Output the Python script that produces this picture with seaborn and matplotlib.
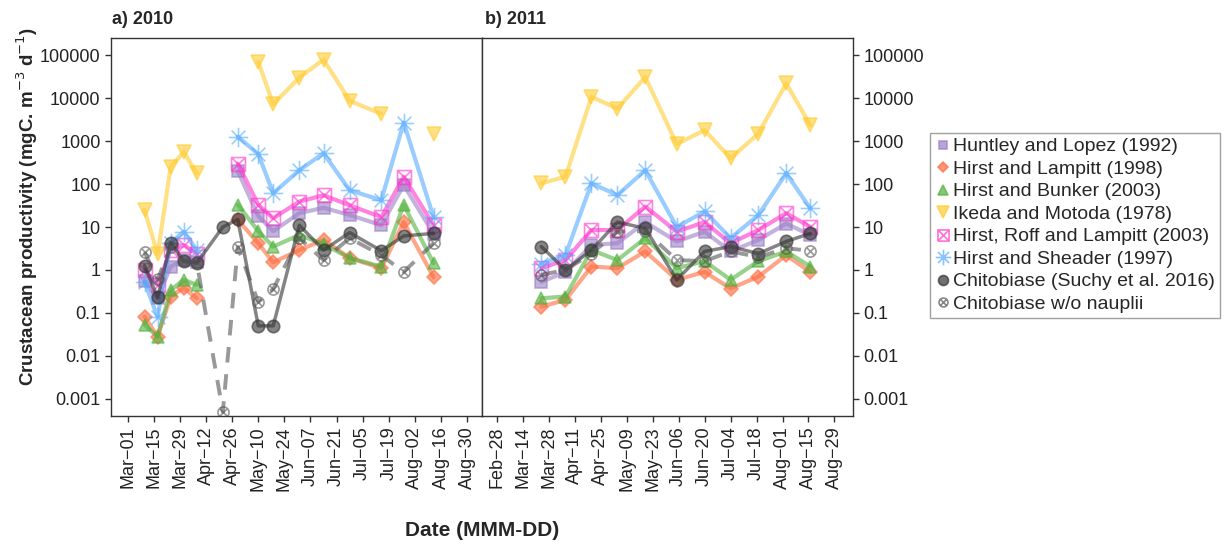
import numpy as np
import pandas as pd
import matplotlib
matplotlib.use("Agg")
import matplotlib.pyplot as plt
import matplotlib.dates as mdates
from matplotlib.path import Path
from matplotlib.lines import Line2D
from matplotlib.ticker import FixedLocator, FixedFormatter
import seaborn as sns

# sampling dates
dates_2010 = ["2010-03-10", "2010-03-17", "2010-03-24", "2010-03-31", "2010-04-07",
              "2010-04-21", "2010-04-29", "2010-05-10", "2010-05-18", "2010-06-01",
              "2010-06-14", "2010-06-28", "2010-07-15", "2010-07-27", "2010-08-12"]
dates_2011 = ["2011-03-24", "2011-04-06", "2011-04-20", "2011-05-04", "2011-05-19",
              "2011-06-05", "2011-06-20", "2011-07-04", "2011-07-19", "2011-08-03",
              "2011-08-16"]

nan = np.nan
# 2010 values (mgC m-3 d-1)
huntley_2010 = [0.55, 0.22, 1.2, 1.7, 1.5, nan, 200, 18, 8, 21, 28, 19, 11, 95, 7]
lampitt_2010 = [0.082, 0.028, 0.24, 0.38, 0.22, nan, 14.6, 4.2, 1.5, 2.9, 5, 1.9, 1.1, 13, 0.68]
bunker_2010 = [0.053, 0.028, 0.34, 0.59, 0.45, nan, 33, 8, 3.5, 6.5, 4, 1.9, 1.2, 33, 1.43]
ikeda_2010 = [25, 2.3, 250, 560, 178, nan, nan, 70000, 7200, 30000, 79000, 8700, 4300, nan, 1450]
roff_2010 = [1.0, 0.45, 2.9, 3.8, 2.4, nan, 300, 33, 16, 39, 55, 32, 17, 148, 11]
sheader_2010 = [0.53, 0.08, 4.3, 7.8, 2.9, nan, 1260, 500, 61, 210, 520, 72, 42, 2700, 17]
chito_2010 = [1.26, 0.23, 4.3, 1.6, 1.45, 10, 15, 0.05, 0.05, 11, 2.9, 7.4, 2.8, 6.2, 7.1]
chito_nn_2010 = [2.6, 0.6, 3.5, 1.6, 1.5, 0.0005, 3.4, 0.18, 0.36, 5.5, 1.7, 5.5, 2.2, 0.9, 4.2]

# 2011 values
huntley_2011 = [0.53, 0.9, 3.8, 4.2, 13, 4.6, 7.8, 2.7, 5, 12, 6.5]
lampitt_2011 = [0.14, 0.2, 1.2, 1.1, 2.7, 0.59, 0.9, 0.37, 0.7, 2.2, 0.9]
bunker_2011 = [0.22, 0.24, 2.9, 1.7, 5.5, 1.1, 1.6, 0.59, 1.6, 2.7, 1.2]
ikeda_2011 = [104, 148, 10700, 5700, 31000, 850, 1800, 395, 1500, 22000, 2350]
roff_2011 = [1.1, 1.7, 8.5, 8.5, 30, 7.8, 13, 4.2, 8.5, 21, 10]
sheader_2011 = [1.4, 2.2, 104, 55, 210, 10, 23, 5.5, 19, 178, 27]
chito_2011 = [3.5, 1.0, 2.9, 13, 9.3, 0.59, 2.7, 3.5, 2.4, 4.6, 7.1]
chito_nn_2011 = [0.77, 1.0, 2.4, 7.8, 8, 1.7, 1.6, 2.7, 2.0, 3.2, 2.8]

labels = ["Huntley and Lopez (1992)", "Hirst and Lampitt (1998)", "Hirst and Bunker (2003)",
          "Ikeda and Motoda (1978)", "Hirst, Roff and Lampitt (2003)", "Hirst and Sheader (1997)",
          "Chitobiase (Suchy et al. 2016)", "Chitobiase w/o nauplii"]

# custom markers: boxed x, circled x, asterisk
M, L = Path.MOVETO, Path.LINETO
box_x = Path([(-1, -1), (1, -1), (1, 1), (-1, 1), (-1, -1), (-1, -1), (1, 1), (-1, 1), (1, -1)],
             [M, L, L, L, L, M, L, M, L])
circ_x = Path.make_compound_path(Path.unit_circle(),
                                 Path([(-.707, -.707), (.707, .707)], [M, L]),
                                 Path([(-.707, .707), (.707, -.707)], [M, L]))
star = Path([(-1, 0), (1, 0), (0, -1), (0, 1), (-.707, -.707), (.707, .707), (-.707, .707), (.707, -.707)],
            [M, L, M, L, M, L, M, L])

styles = [
    dict(color="#9a7fc6", marker="s", ms=8, lw=3, ls="-", mfc="#9a7fc6"),
    dict(color="#ff6a3d", marker="D", ms=7, lw=3, ls="-", mfc="#ff6a3d"),
    dict(color="#52b33f", marker="^", ms=9, lw=3, ls="-", mfc="#52b33f"),
    dict(color="#ffcc33", marker="v", ms=10, lw=3, ls="-", mfc="#ffcc33"),
    dict(color="#ff33cc", marker=box_x, ms=10, lw=3, ls="-", mfc="none"),
    dict(color="#55aaff", marker=star, ms=14, lw=3, ls="-", mfc="none"),
    dict(color="#333333", marker="o", ms=9, lw=2.5, ls="-", mfc="#333333"),
    dict(color="#555555", marker=circ_x, ms=8, lw=2.8, ls=(0, (4, 3)), mfc="none"),
]

sns.set_style("ticks")
plt.rcParams["font.family"] = ["Liberation Sans", "DejaVu Sans"]

fig = plt.figure(figsize=(12.28, 5.45), dpi=100)
ax1 = fig.add_axes([111 / 1228, 1 - 416 / 545, 371 / 1228, 378 / 545])
ax2 = fig.add_axes([482 / 1228, 1 - 416 / 545, 371 / 1228, 378 / 545])


def draw(ax, dates, series):
    d = pd.to_datetime(dates)
    for vals, st in zip(series, styles):
        df = pd.DataFrame({"date": d, "val": vals})
        # split into contiguous segments so gaps are not bridged
        df["seg"] = df["val"].isna().cumsum()
        df = df.dropna()
        for _, sub in df.groupby("seg"):
            sns.lineplot(data=sub, x="date", y="val", ax=ax, color=st["color"], lw=st["lw"],
                         ls=st["ls"], marker=st["marker"], ms=st["ms"], mfc=st["mfc"],
                         mec=st["color"], mew=1.2, alpha=0.6, estimator=None, sort=False)


draw(ax1, dates_2010, [huntley_2010, lampitt_2010, bunker_2010, ikeda_2010,
                       roff_2010, sheader_2010, chito_2010, chito_nn_2010])
draw(ax2, dates_2011, [huntley_2011, lampitt_2011, bunker_2011, ikeda_2011,
                       roff_2011, sheader_2011, chito_2011, chito_nn_2011])

yticks = [0.001, 0.01, 0.1, 1, 10, 100, 1000, 10000, 100000]
ytick_labels = ["0.001", "0.01", "0.1", "1", "10", "100", "1000", "10000", "100000"]
xticks_2010 = pd.date_range("2010-03-01", periods=14, freq="14D")
xticks_2011 = pd.date_range("2011-02-28", periods=14, freq="14D")

for ax, xt, lo, hi in [(ax1, xticks_2010, "2010-02-20", "2010-09-07"),
                       (ax2, xticks_2011, "2011-02-20", "2011-09-08")]:
    ax.set_yscale("log")
    ax.set_ylim(10 ** -3.4, 10 ** 5.4)
    ax.yaxis.set_major_locator(FixedLocator(yticks))
    ax.yaxis.set_major_formatter(FixedFormatter(ytick_labels))
    ax.yaxis.set_minor_locator(FixedLocator([]))
    ax.set_xlim(pd.Timestamp(lo), pd.Timestamp(hi))
    ax.set_xticks(xt)
    ax.xaxis.set_major_formatter(mdates.DateFormatter("%b\u2212%d"))
    ax.tick_params(axis="x", rotation=90)
    ax.tick_params(labelsize=13, length=4, width=1, color="#333333", labelcolor="#222222")
    ax.set_xlabel("")
    ax.set_ylabel("")
    for sp in ax.spines.values():
        sp.set_visible(True)
        sp.set_color("#333333")
        sp.set_linewidth(1)

ax2.yaxis.tick_right()
ax2.yaxis.set_label_position("right")

fig.text(112 / 1228, 1 - 19 / 545, "a) 2010", fontsize=13, fontweight="bold", va="center")
fig.text(485 / 1228, 1 - 19 / 545, "b) 2011", fontsize=13, fontweight="bold", va="center")
fig.text(27 / 1228, 1 - 207 / 545, "Crustacean productivity (mgC. m$^{-3}$ d$^{-1}$)",
         rotation=90, fontsize=13.5, fontweight="bold", ha="center", va="center")
fig.text(482 / 1228, 1 - 530 / 545, "Date (MMM-DD)", fontsize=15, fontweight="bold",
         ha="center", va="center")

handles = [Line2D([], [], ls="none", marker=st["marker"], ms=st["ms"] * 0.8, color=st["color"],
                  mfc=st["mfc"], mec=st["color"], mew=1.2, alpha=0.7) for st in styles]
leg = fig.legend(handles, labels, loc="upper left", bbox_to_anchor=(930 / 1228, 1 - 133 / 545),
                 fontsize=14, frameon=True, fancybox=False, edgecolor="#888888",
                 borderaxespad=0, handletextpad=0.15, handlelength=0.8, labelspacing=0.25,
                 borderpad=0.25)
leg.get_frame().set_linewidth(1)

fig.savefig("out.png", dpi=100)
